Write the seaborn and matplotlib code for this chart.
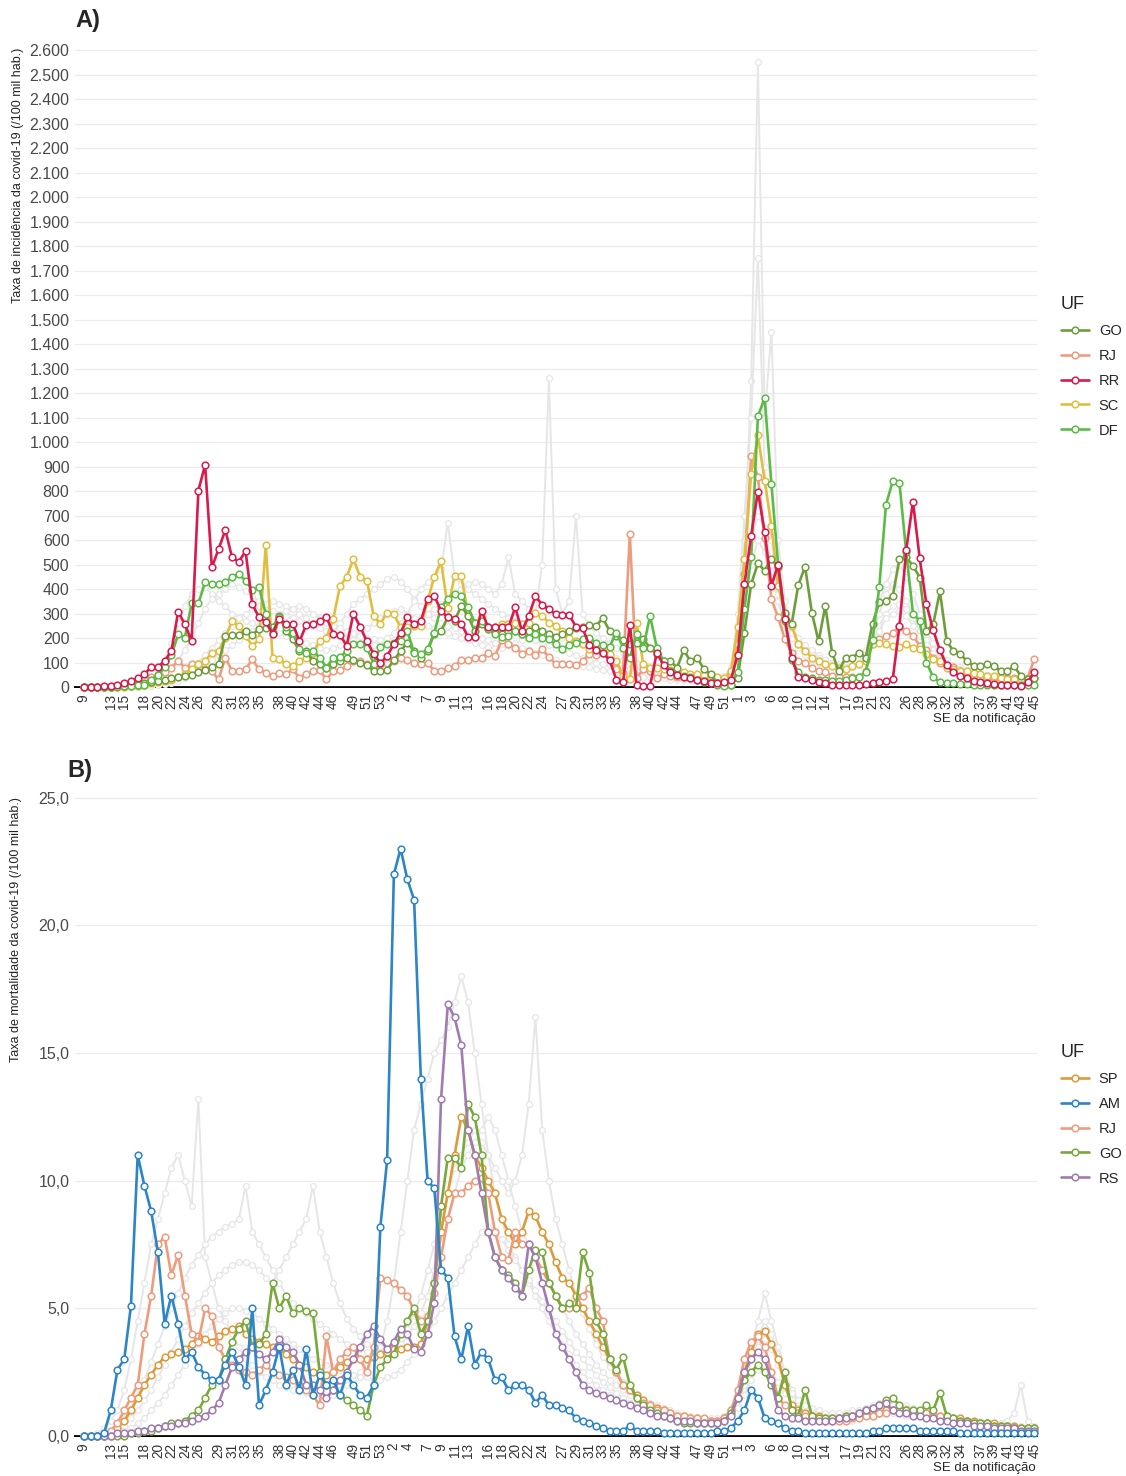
import matplotlib.pyplot as plt
from matplotlib.lines import Line2D
from matplotlib.ticker import FuncFormatter
import pandas as pd
import seaborn as sns

# epidemiological weeks: 2020 SE 9-53, 2021 SE 1-52, 2022 SE 1-45
weeks_2020 = list(range(9, 54))
weeks_2021 = list(range(1, 53))
weeks_2022 = list(range(1, 46))
shown_2020 = [9, 13, 15, 18, 20, 22, 24, 26, 29, 31, 33, 35, 38, 40, 42, 44, 46, 49, 51, 53]
shown_2021 = [2, 4, 7, 9, 11, 13, 16, 18, 20, 22, 24, 27, 29, 31, 33, 35, 38, 40, 42, 44, 47, 49, 51]
shown_2022 = [1, 3, 6, 8, 10, 12, 14, 17, 19, 21, 23, 26, 28, 30, 32, 34, 37, 39, 41, 43, 45]

# ---- panel A: incidence (/100 mil hab.)
a_go = [0, 0, 0, 1, 2, 3, 5, 8, 10, 15,
        20, 25, 30, 35, 40, 45, 50, 60, 70, 80,
        95, 209, 213, 213, 229, 213, 236, 240, 243, 290,
        229, 195, 147, 147, 106, 93, 79, 93, 106, 120,
        110, 100, 90, 65, 65, 70, 110, 147, 181, 147,
        120, 147, 218, 229, 284, 270, 331, 290, 229, 256,
        243, 229, 215, 229, 229, 215, 229, 243, 229, 215,
        205, 215, 230, 240, 245, 254, 250, 281, 229, 209,
        190, 175, 180, 195, 160, 134, 106, 106, 79, 150,
        106, 120, 72, 52, 15, 10, 10, 38, 222, 420,
        505, 475, 523, 488, 304, 256, 417, 491, 304, 186,
        331, 140, 65, 120, 120, 140, 120, 259, 345, 352,
        372, 522, 529, 495, 447, 229, 256, 390, 188, 147,
        136, 106, 86, 86, 93, 86, 65, 65, 86, 45,
        31, 38]
a_rj = [0, 0, 0, 1, 2, 5, 10, 15, 20, 30,
        40, 50, 60, 79, 106, 79, 93, 93, 72, 65,
        31, 120, 65, 65, 72, 113, 72, 59, 45, 59,
        52, 72, 38, 52, 65, 68, 31, 65, 68, 86,
        106, 106, 93, 82, 93, 100, 106, 120, 109, 100,
        93, 100, 65, 65, 76, 86, 109, 109, 120, 120,
        140, 127, 191, 175, 161, 136, 147, 131, 154, 123,
        93, 93, 95, 90, 106, 134, 130, 140, 113, 72,
        59, 625, 38, 72, 65, 38, 52, 45, 40, 40,
        35, 35, 30, 25, 20, 15, 52, 175, 461, 945,
        857, 608, 359, 284, 195, 140, 106, 100, 76, 65,
        60, 45, 40, 40, 42, 40, 65, 188, 195, 209,
        222, 243, 229, 210, 168, 150, 120, 100, 86, 80,
        65, 55, 45, 40, 38, 35, 35, 35, 35, 35,
        38, 113]
a_rr = [0, 0, 1, 3, 5, 8, 15, 25, 35, 52,
        82, 82, 106, 147, 307, 256, 188, 802, 907, 488,
        563, 641, 529, 512, 554, 338, 284, 265, 218, 277,
        259, 259, 186, 254, 259, 270, 286, 218, 213, 168,
        300, 246, 186, 136, 97, 127, 175, 221, 284, 256,
        270, 359, 372, 311, 284, 277, 259, 205, 205, 311,
        243, 243, 243, 243, 325, 229, 290, 370, 336, 318,
        297, 295, 295, 246, 240, 170, 150, 140, 110, 30,
        20, 255, 10, 5, 5, 140, 90, 60, 50, 40,
        35, 30, 25, 15, 15, 20, 30, 131, 420, 618,
        798, 632, 413, 500, 277, 120, 40, 35, 30, 20,
        15, 10, 10, 8, 8, 10, 12, 15, 20, 25,
        31, 250, 559, 757, 525, 338, 232, 150, 90, 60,
        45, 35, 25, 20, 15, 12, 10, 8, 8, 5,
        20, 60]
a_sc = [0, 0, 0, 0, 0, 1, 2, 3, 5, 10,
        15, 20, 25, 30, 40, 55, 75, 93, 106, 140,
        147, 202, 270, 250, 209, 168, 195, 581, 120, 113,
        93, 86, 106, 120, 140, 188, 202, 277, 411, 450,
        522, 450, 434, 290, 259, 304, 297, 243, 243, 250,
        250, 352, 450, 513, 322, 452, 452, 300, 263, 284,
        236, 243, 256, 259, 263, 256, 263, 304, 290, 263,
        250, 229, 202, 188, 175, 154, 154, 145, 134, 106,
        45, 31, 263, 93, 79, 79, 72, 70, 65, 60,
        55, 55, 50, 45, 40, 35, 65, 243, 522, 870,
        1027, 843, 659, 413, 300, 250, 175, 147, 120, 106,
        93, 86, 76, 72, 86, 93, 106, 175, 181, 175,
        168, 164, 175, 161, 154, 134, 113, 106, 79, 72,
        65, 65, 59, 52, 45, 45, 38, 31, 31, 31,
        31, 38]
a_df = [0, 0, 0, 0, 1, 2, 3, 5, 8, 10,
        30, 50, 80, 130, 215, 202, 341, 341, 427, 420,
        420, 427, 450, 461, 434, 396, 409, 297, 222, 286,
        243, 222, 154, 140, 147, 120, 79, 120, 123, 147,
        177, 177, 161, 95, 164, 175, 181, 188, 229, 140,
        134, 154, 222, 325, 359, 379, 370, 325, 263, 270,
        236, 215, 205, 209, 229, 215, 202, 218, 202, 195,
        175, 154, 170, 180, 195, 200, 180, 170, 165, 222,
        161, 120, 215, 160, 290, 161, 106, 65, 50, 45,
        40, 30, 20, 15, 10, 5, 10, 60, 320, 530,
        1105, 1180, 830, 500, 270, 110, 60, 40, 35, 30,
        30, 25, 25, 30, 35, 40, 60, 190, 407, 745,
        840, 832, 550, 300, 270, 100, 40, 20, 15, 15,
        12, 12, 10, 10, 10, 10, 8, 8, 8, 8,
        8, 10]
# other states (grey background)
a_gray1 = [0, 0, 0, 0, 0, 1, 2, 4, 8, 15,
           30, 60, 110, 180, 260, 330, 380, 400, 410, 380,
           350, 330, 300, 280, 270, 260, 250, 240, 230, 220,
           210, 200, 190, 180, 170, 160, 150, 160, 170, 180,
           200, 220, 240, 260, 280, 300, 310, 320, 300, 280,
           260, 250, 240, 230, 220, 210, 200, 190, 180, 170,
           165, 160, 160, 170, 180, 190, 200, 190, 180, 170,
           160, 150, 140, 130, 120, 110, 100, 95, 90, 85,
           80, 75, 70, 65, 60, 55, 50, 45, 40, 40,
           35, 35, 30, 30, 30, 30, 40, 200, 600, 1250,
           2550, 1100, 1450, 600, 350, 250, 200, 170, 150, 130,
           110, 100, 90, 80, 80, 90, 120, 200, 300, 380,
           420, 400, 350, 300, 250, 200, 160, 130, 110, 90,
           80, 70, 60, 55, 50, 45, 40, 40, 35, 35,
           30, 30]
a_gray2 = [0, 0, 0, 0, 1, 2, 3, 5, 8, 12,
           20, 35, 55, 80, 110, 150, 200, 260, 320, 360,
           380, 400, 420, 410, 390, 370, 350, 330, 310, 300,
           290, 280, 270, 260, 250, 240, 230, 240, 260, 300,
           340, 360, 380, 400, 420, 440, 450, 430, 400, 360,
           330, 300, 280, 260, 250, 240, 230, 220, 210, 200,
           190, 180, 175, 170, 165, 160, 150, 140, 130, 120,
           110, 100, 95, 90, 85, 80, 75, 70, 65, 60,
           55, 50, 45, 40, 40, 35, 35, 30, 30, 30,
           30, 30, 30, 30, 30, 30, 60, 300, 700, 1100,
           1750, 900, 600, 350, 250, 200, 160, 130, 110, 100,
           90, 80, 70, 70, 80, 100, 150, 250, 350, 420,
           480, 500, 450, 380, 300, 230, 180, 140, 110, 90,
           80, 70, 60, 55, 50, 45, 40, 40, 35, 35,
           30, 30]
a_gray3 = [0, 0, 0, 0, 0, 0, 1, 2, 3, 5,
           8, 12, 20, 30, 45, 60, 80, 100, 130, 160,
           190, 220, 250, 280, 300, 320, 330, 340, 350, 340,
           330, 320, 300, 280, 260, 240, 230, 220, 210, 200,
           190, 180, 175, 170, 175, 180, 190, 200, 220, 250,
           280, 300, 320, 340, 360, 380, 400, 420, 430, 420,
           400, 380, 420, 530, 380, 350, 320, 300, 500, 1260,
           400, 300, 350, 700, 300, 250, 220, 200, 180, 160,
           140, 120, 100, 90, 80, 70, 60, 55, 50, 45,
           40, 40, 35, 35, 35, 40, 60, 150, 350, 500,
           600, 550, 450, 350, 250, 200, 170, 150, 130, 120,
           110, 100, 95, 90, 90, 100, 130, 180, 250, 300,
           330, 340, 320, 280, 230, 190, 150, 120, 100, 85,
           75, 65, 60, 55, 50, 45, 40, 35, 35, 30,
           30, 30]
a_gray4 = [0, 0, 0, 0, 0, 0, 0, 1, 2, 3,
           5, 8, 12, 18, 25, 35, 50, 70, 90, 110,
           130, 150, 170, 190, 210, 230, 250, 270, 290, 300,
           310, 320, 330, 320, 300, 280, 260, 250, 240, 230,
           220, 210, 200, 195, 190, 200, 220, 260, 300, 350,
           400, 430, 450, 480, 670, 450, 420, 400, 380, 360,
           340, 320, 300, 280, 270, 260, 250, 240, 230, 220,
           210, 200, 190, 180, 170, 160, 150, 140, 130, 120,
           110, 100, 95, 90, 85, 80, 75, 70, 65, 60,
           55, 50, 45, 40, 40, 45, 80, 250, 450, 600,
           700, 650, 500, 380, 280, 220, 180, 150, 130, 110,
           100, 90, 85, 80, 85, 95, 120, 170, 230, 280,
           300, 310, 290, 250, 210, 170, 140, 110, 95, 80,
           70, 60, 55, 50, 45, 40, 38, 35, 32, 30,
           30, 30]

# ---- panel B: mortality (/100 mil hab.)
b_sp = [0, 0, 0, 0, 0.1, 0.3, 0.6, 1.0, 1.5, 2.0,
        2.4, 2.8, 3.1, 3.2, 3.3, 3.4, 3.6, 3.9, 3.8, 3.7,
        3.9, 4.1, 4.2, 4.3, 4.0, 3.8, 3.7, 3.6, 3.5, 3.4,
        3.2, 3.0, 2.8, 2.7, 2.5, 2.4, 2.4, 2.5, 2.7, 2.9,
        3.0, 3.0, 3.0, 3.1, 3.2, 3.3, 3.4, 3.4, 3.5, 3.5,
        3.6, 4.5, 6.0, 8.0, 9.5, 11.0, 12.5, 12.0, 11.0, 10.5,
        10.0, 9.5, 8.5, 8.0, 7.5, 8.0, 8.8, 8.6, 8.0, 7.5,
        6.8, 6.2, 6.0, 5.5, 5.0, 4.5, 4.0, 3.5, 3.0, 2.5,
        2.0, 1.8, 1.6, 1.4, 1.2, 1.1, 1.0, 0.9, 0.8, 0.8,
        0.7, 0.7, 0.6, 0.6, 0.6, 0.7, 1.0, 1.5, 2.5, 3.3,
        4.0, 4.1, 3.6, 3.0, 2.0, 1.2, 1.0, 0.9, 0.8, 0.8,
        0.7, 0.7, 0.7, 0.8, 0.8, 0.8, 0.9, 0.9, 0.9, 1.0,
        1.0, 1.0, 1.0, 0.9, 0.9, 0.9, 0.8, 0.8, 0.8, 0.7,
        0.7, 0.6, 0.6, 0.5, 0.5, 0.5, 0.4, 0.4, 0.4, 0.3,
        0.3, 0.3]
b_am = [0, 0, 0, 0.1, 1.0, 2.6, 3.0, 5.1, 11.0, 9.8,
        8.8, 7.2, 4.4, 5.5, 4.4, 3.0, 3.3, 2.7, 2.4, 2.2,
        2.2, 2.8, 3.3, 2.7, 2.0, 5.0, 1.2, 1.8, 2.5, 3.5,
        2.0, 2.6, 1.8, 3.4, 1.6, 2.4, 2.0, 2.2, 1.6, 2.4,
        2.0, 1.6, 1.5, 2.0, 8.2, 10.8, 22.0, 23.0, 21.8, 21.0,
        14.0, 10.0, 9.7, 6.5, 6.2, 3.9, 3.0, 4.3, 2.8, 3.3,
        3.0, 2.2, 2.3, 1.8, 2.0, 2.0, 1.8, 1.3, 1.6, 1.2,
        1.2, 1.1, 1.0, 0.7, 0.6, 0.5, 0.4, 0.3, 0.2, 0.2,
        0.2, 0.4, 0.2, 0.2, 0.2, 0.2, 0.1, 0.1, 0.1, 0.1,
        0.1, 0.1, 0.1, 0.1, 0.2, 0.2, 0.3, 0.6, 1.0, 1.8,
        1.5, 0.7, 0.6, 0.5, 0.3, 0.2, 0.2, 0.1, 0.1, 0.1,
        0.1, 0.1, 0.1, 0.1, 0.1, 0.1, 0.1, 0.2, 0.2, 0.3,
        0.3, 0.3, 0.3, 0.3, 0.2, 0.2, 0.2, 0.2, 0.2, 0.2,
        0.1, 0.1, 0.1, 0.1, 0.1, 0.1, 0.1, 0.1, 0.1, 0.1,
        0.1, 0.1]
b_rj = [0, 0, 0, 0, 0.2, 0.5, 1.0, 1.5, 2.0, 4.0,
        5.5, 7.5, 7.8, 6.3, 7.1, 5.5, 4.0, 3.7, 5.0, 4.7,
        3.5, 3.0, 2.8, 2.6, 2.5, 2.4, 2.6, 2.8, 2.5, 2.4,
        2.3, 2.2, 2.0, 1.8, 1.6, 1.2, 3.9, 2.5, 3.0, 3.3,
        3.5, 3.0, 2.5, 3.5, 6.2, 6.1, 6.0, 5.7, 5.5, 4.9,
        4.5, 4.7, 5.6, 7.0, 8.5, 9.5, 9.5, 9.8, 10.0, 10.1,
        9.5, 8.0, 7.0, 6.9, 8.0, 7.5, 7.5, 7.0, 6.5, 6.0,
        5.5, 5.0, 5.0, 5.2, 5.5, 5.8, 5.0, 4.5, 3.0, 2.5,
        2.0, 1.8, 1.5, 1.3, 1.2, 1.0, 1.0, 0.9, 0.8, 0.8,
        0.7, 0.7, 0.7, 0.6, 0.6, 0.7, 1.0, 1.8, 3.0, 3.7,
        3.9, 3.5, 2.5, 1.5, 1.2, 1.0, 0.9, 0.8, 0.7, 0.7,
        0.6, 0.6, 0.6, 0.6, 0.7, 0.7, 0.8, 0.8, 0.9, 0.9,
        1.0, 1.0, 1.0, 0.9, 0.9, 0.9, 0.8, 0.8, 0.7, 0.7,
        0.6, 0.6, 0.5, 0.5, 0.5, 0.4, 0.4, 0.4, 0.3, 0.3,
        0.3, 0.3]
b_go = [0, 0, 0, 0, 0, 0, 0, 0.1, 0.1, 0.2,
        0.2, 0.3, 0.4, 0.5, 0.5, 0.6, 0.8, 1.0, 1.5, 2.0,
        2.2, 3.0, 3.7, 4.2, 4.5, 3.5, 3.6, 4.0, 6.0, 5.0,
        5.5, 4.8, 5.0, 4.9, 4.8, 2.5, 2.0, 1.8, 1.6, 1.4,
        1.2, 1.0, 0.8, 2.0, 2.7, 3.0, 3.2, 4.0, 4.5, 5.0,
        4.0, 4.5, 6.0, 9.0, 10.9, 10.9, 10.5, 13.0, 12.5, 11.0,
        8.0, 7.0, 6.5, 6.3, 6.0, 5.5, 6.5, 7.3, 7.2, 6.0,
        5.5, 5.0, 5.2, 5.0, 7.2, 6.4, 4.5, 4.0, 3.0, 2.6,
        3.1, 2.0, 1.5, 1.2, 1.0, 0.9, 0.8, 0.7, 0.6, 0.5,
        0.5, 0.5, 0.5, 0.5, 0.5, 0.6, 0.9, 1.5, 2.2, 2.5,
        2.8, 2.5, 2.0, 1.5, 2.5, 1.0, 0.8, 1.8, 0.8, 0.7,
        0.7, 0.7, 0.7, 0.8, 0.8, 0.9, 1.0, 1.1, 1.2, 1.4,
        1.5, 1.2, 1.0, 1.0, 1.0, 1.2, 1.0, 1.7, 0.8, 0.7,
        0.6, 0.6, 0.5, 0.5, 0.5, 0.4, 0.4, 0.4, 0.3, 0.3,
        0.3, 0.3]
b_rs = [0, 0, 0, 0, 0, 0.1, 0.1, 0.1, 0.2, 0.2,
        0.3, 0.3, 0.4, 0.4, 0.5, 0.5, 0.6, 0.7, 0.8, 1.0,
        1.3, 2.0, 2.7, 3.0, 3.3, 3.5, 3.2, 3.0, 3.3, 3.8,
        3.5, 3.3, 2.8, 2.0, 2.0, 1.8, 1.5, 1.8, 2.2, 2.5,
        3.0, 3.5, 4.0, 4.3, 3.8, 3.4, 3.7, 4.2, 4.0, 3.4,
        3.3, 4.0, 5.2, 13.2, 16.9, 16.4, 15.3, 12.0, 11.0, 9.5,
        8.0, 7.0, 6.5, 6.2, 5.8, 5.5, 7.5, 7.0, 6.0, 5.0,
        4.0, 3.5, 3.0, 2.5, 2.0, 1.8, 1.7, 1.6, 1.5, 1.4,
        1.3, 1.2, 1.1, 1.0, 0.9, 0.8, 0.8, 0.7, 0.6, 0.6,
        0.6, 0.5, 0.5, 0.5, 0.5, 0.6, 0.8, 1.5, 2.5, 3.0,
        3.3, 3.0, 2.2, 1.0, 0.8, 0.7, 0.7, 0.6, 0.6, 0.6,
        0.6, 0.6, 0.7, 0.7, 0.8, 0.9, 1.0, 1.1, 1.2, 1.3,
        1.0, 0.9, 0.9, 0.8, 0.8, 0.7, 0.7, 0.6, 0.6, 0.5,
        0.5, 0.5, 0.4, 0.4, 0.4, 0.3, 0.3, 0.3, 0.3, 0.2,
        0.2, 0.2]
b_gray1 = [0, 0, 0.1, 0.3, 0.6, 1.0, 1.8, 3.0, 4.5, 6.0,
           7.5, 8.5, 9.5, 10.5, 11.0, 10.0, 9.0, 13.2, 7.0, 6.0,
           5.0, 4.5, 4.0, 3.5, 3.0, 2.8, 2.5, 2.3, 2.2, 2.0,
           1.9, 1.8, 1.8, 1.7, 1.6, 1.6, 1.5, 1.6, 1.8, 2.0,
           2.2, 2.5, 2.8, 3.0, 3.5, 4.5, 6.0, 8.0, 10.0, 12.0,
           13.0, 14.0, 15.0, 15.5, 16.0, 17.0, 18.0, 17.0, 15.0, 13.0,
           11.0, 9.5, 8.5, 7.5, 7.0, 6.5, 6.0, 5.5, 5.0, 4.5,
           4.0, 3.6, 3.2, 2.8, 2.5, 2.2, 2.0, 1.8, 1.6, 1.4,
           1.3, 1.2, 1.1, 1.0, 0.9, 0.8, 0.8, 0.7, 0.7, 0.6,
           0.6, 0.6, 0.5, 0.5, 0.5, 0.6, 0.8, 1.2, 2.0, 3.0,
           3.8, 4.5, 4.0, 3.2, 2.5, 1.8, 1.4, 1.1, 0.9, 0.8,
           0.7, 0.6, 0.6, 0.6, 0.6, 0.7, 0.8, 0.9, 1.0, 1.0,
           1.0, 0.9, 0.9, 0.8, 0.8, 0.7, 0.7, 0.6, 0.6, 0.5,
           0.5, 0.5, 0.4, 0.4, 0.4, 0.3, 0.3, 0.3, 0.3, 0.3,
           0.3, 0.2]
b_gray2 = [0, 0, 0, 0.1, 0.2, 0.4, 0.7, 1.1, 1.6, 2.2,
           2.9, 3.6, 4.3, 5.0, 5.6, 6.2, 6.7, 7.1, 7.5, 7.8,
           8.0, 8.2, 8.3, 8.5, 9.8, 8.0, 7.5, 7.0, 6.5, 6.0,
           5.5, 5.2, 5.0, 4.8, 4.6, 4.4, 4.2, 4.0, 3.8, 3.6,
           3.5, 3.4, 3.3, 3.2, 3.2, 3.3, 3.5, 3.8, 4.2, 4.8,
           5.5, 6.5, 7.5, 8.5, 9.5, 10.5, 11.0, 11.5, 12.0, 11.5,
           11.0, 10.5, 10.0, 9.5, 10.0, 11.0, 13.0, 16.4, 12.0, 10.0,
           8.5, 7.5, 6.5, 5.5, 4.8, 4.2, 3.6, 3.1, 2.7, 2.4,
           2.1, 1.8, 1.6, 1.4, 1.2, 1.1, 1.0, 0.9, 0.8, 0.7,
           0.7, 0.6, 0.6, 0.6, 0.6, 0.7, 0.9, 1.5, 2.5, 3.5,
           4.5, 5.6, 4.5, 3.5, 2.5, 1.8, 1.4, 1.2, 1.0, 0.9,
           0.8, 0.8, 0.8, 0.8, 0.9, 1.0, 1.1, 1.2, 1.3, 1.3,
           1.3, 1.2, 1.2, 1.1, 1.0, 1.0, 0.9, 0.8, 0.8, 0.7,
           0.7, 0.6, 0.6, 0.5, 0.5, 0.5, 0.5, 0.6, 0.9, 2.0,
           0.6, 0.4]
b_gray3 = [0, 0, 0, 0, 0.1, 0.2, 0.4, 0.7, 1.0, 1.4,
           1.8, 2.3, 2.8, 3.3, 3.8, 4.3, 4.8, 5.2, 5.6, 6.0,
           6.3, 6.5, 6.7, 6.8, 6.8, 6.7, 6.5, 6.2, 6.0, 6.5,
           7.0, 7.5, 8.0, 8.5, 9.8, 8.0, 7.0, 6.0, 5.2, 4.6,
           4.2, 3.9, 3.6, 3.4, 3.3, 3.3, 3.4, 3.6, 3.9, 4.3,
           4.8, 5.5, 6.5, 7.5, 8.5, 9.5, 10.5, 11.0, 11.5, 12.0,
           12.5, 12.0, 11.0, 10.0, 9.0, 8.0, 7.5, 7.0, 6.5, 6.0,
           5.5, 5.0, 4.5, 4.0, 3.6, 3.2, 2.8, 2.5, 2.2, 2.0,
           1.8, 1.6, 1.5, 1.4, 1.3, 1.2, 1.1, 1.0, 0.9, 0.8,
           0.8, 0.7, 0.7, 0.7, 0.7, 0.8, 1.0, 1.5, 2.2, 3.0,
           3.5, 3.8, 3.4, 2.8, 2.2, 1.7, 1.4, 1.2, 1.1, 1.0,
           0.9, 0.9, 0.9, 0.9, 1.0, 1.0, 1.1, 1.1, 1.2, 1.2,
           1.2, 1.1, 1.1, 1.0, 1.0, 0.9, 0.9, 0.8, 0.8, 0.7,
           0.7, 0.6, 0.6, 0.6, 0.5, 0.5, 0.5, 0.4, 0.4, 0.4,
           0.3, 0.3]
b_gray4 = [0, 0, 0, 0, 0, 0.1, 0.2, 0.3, 0.5, 0.7,
           1.0, 1.3, 1.6, 2.0, 2.4, 2.8, 3.2, 3.6, 4.0, 4.3,
           4.6, 4.8, 5.0, 5.0, 4.9, 4.8, 4.6, 4.4, 4.2, 4.0,
           3.8, 3.6, 3.4, 3.2, 3.0, 2.9, 2.8, 2.7, 2.6, 2.5,
           2.4, 2.3, 2.3, 2.2, 2.2, 2.3, 2.4, 2.6, 2.9, 3.2,
           3.6, 4.0, 4.5, 5.0, 5.5, 6.0, 6.5, 7.0, 7.5, 8.0,
           8.2, 8.0, 7.7, 7.3, 6.9, 6.5, 6.1, 5.7, 5.3, 4.9,
           4.5, 4.1, 3.7, 3.3, 3.0, 2.7, 2.4, 2.1, 1.9, 1.7,
           1.5, 1.3, 1.2, 1.1, 1.0, 0.9, 0.8, 0.7, 0.7, 0.6,
           0.6, 0.5, 0.5, 0.5, 0.5, 0.6, 0.8, 1.1, 1.6, 2.2,
           2.6, 2.8, 2.5, 2.1, 1.7, 1.4, 1.1, 0.9, 0.8, 0.7,
           0.6, 0.6, 0.6, 0.6, 0.7, 0.7, 0.8, 0.8, 0.9, 0.9,
           0.9, 0.9, 0.8, 0.8, 0.8, 0.7, 0.7, 0.6, 0.6, 0.6,
           0.5, 0.5, 0.5, 0.4, 0.4, 0.4, 0.4, 0.3, 0.3, 0.3,
           0.3, 0.2]

colors_a = {'GO': '#6E9E3C', 'RJ': '#EE9C7E', 'RR': '#D81A4D', 'SC': '#E2BE40', 'DF': '#5CBB47'}
colors_b = {'SP': '#DC9A3A', 'AM': '#2B85C6', 'RJ': '#EE9C7E', 'GO': '#77A93C', 'RS': '#A07BAF'}
GRAY = '#E6E6E6'

week_labels = []
for w in weeks_2020:
    week_labels.append(str(w) if w in shown_2020 else '')
for w in weeks_2021:
    week_labels.append(str(w) if w in shown_2021 else '')
for w in weeks_2022:
    week_labels.append(str(w) if w in shown_2022 else '')
n = len(week_labels)

sns.set_style('white')
plt.rcParams['font.family'] = ['Liberation Sans', 'DejaVu Sans']

fig = plt.figure(figsize=(11.26, 14.76), dpi=100)
ax_a = fig.add_axes([75 / 1126, 1 - 687 / 1476, 962 / 1126, 643 / 1476])
ax_b = fig.add_axes([75 / 1126, 1 - 1436 / 1476, 962 / 1126, 646 / 1476])


def one_line(ax, vals, color, lw, ms, mew, z):
    df = pd.DataFrame({'x': range(len(vals)), 'y': vals})
    sns.lineplot(data=df, x='x', y='y', color=color, lw=lw, marker='o', markersize=ms,
                 markerfacecolor='white', markeredgecolor=color, markeredgewidth=mew,
                 ax=ax, legend=False, zorder=z, clip_on=False)


def draw(ax, gray, series, palette):
    for vals in gray:
        one_line(ax, vals, GRAY, 1.4, 4.2, 0.9, 1)
    for name, vals in series.items():
        one_line(ax, vals, palette[name], 1.9, 4.8, 1.1, 3)


draw(ax_a, [a_gray1, a_gray2, a_gray3, a_gray4],
     {'RJ': a_rj, 'SC': a_sc, 'GO': a_go, 'DF': a_df, 'RR': a_rr}, colors_a)
draw(ax_b, [b_gray1, b_gray2, b_gray3, b_gray4],
     {'SP': b_sp, 'RJ': b_rj, 'GO': b_go, 'RS': b_rs, 'AM': b_am}, colors_b)

ax_a.set_ylim(0, 2625)
ax_a.set_yticks(range(0, 2601, 100))
ax_a.yaxis.set_major_formatter(FuncFormatter(lambda v, p: f'{int(v):,}'.replace(',', '.')))
ax_b.set_ylim(0, 25.3)
ax_b.set_yticks([0, 5, 10, 15, 20, 25])
ax_b.yaxis.set_major_formatter(FuncFormatter(lambda v, p: f'{v:.1f}'.replace('.', ',')))

for ax in (ax_a, ax_b):
    ax.set_xlim(-1.3, n - 0.6)
    ax.set_xticks(range(n))
    ax.set_xticklabels(week_labels, rotation=90, fontsize=9.8, color='#333333')
    ax.tick_params(axis='x', length=4, width=0.8, color='black', pad=1)
    ax.tick_params(axis='y', length=0, labelsize=11.5, labelcolor='#4A4A4A', pad=4)
    ax.grid(axis='y', color='#EBEBEB', lw=0.9)
    ax.grid(axis='x', visible=False)
    ax.set_axisbelow(True)
    for s in ('top', 'right', 'left'):
        ax.spines[s].set_visible(False)
    ax.spines['bottom'].set_color('black')
    ax.spines['bottom'].set_linewidth(1.4)
    ax.spines['bottom'].set_zorder(0.5)
    ax.set_xlabel('')
    ax.set_ylabel('')

fig.text(75 / 1126, 1 - 20 / 1476, 'A)', fontsize=17, fontweight='bold', va='center')
fig.text(67 / 1126, 1 - 770 / 1476, 'B)', fontsize=17, fontweight='bold', va='center')
fig.text(18 / 1126, 1 - 175 / 1476, 'Taxa de incidência da covid-19 (/100 mil hab.)',
         rotation=90, fontsize=9, va='center', ha='center', color='#222222')
fig.text(16 / 1126, 1 - 930 / 1476, 'Taxa de mortalidade da covid-19 (/100 mil hab.)',
         rotation=90, fontsize=9, va='center', ha='center', color='#222222')
fig.text(1036 / 1126, 1 - 719 / 1476, 'SE da notificação', fontsize=9.5, ha='right', va='center')
fig.text(1036 / 1126, 1 - 1468 / 1476, 'SE da notificação', fontsize=9.5, ha='right', va='center')


def add_legend(order, palette, y_top):
    handles = [Line2D([0], [0], color=palette[k], lw=1.9, marker='o', markersize=4.8,
                      markerfacecolor='white', markeredgecolor=palette[k],
                      markeredgewidth=1.1) for k in order]
    leg = fig.legend(handles, order, title='UF', loc='upper left',
                     bbox_to_anchor=(1055 / 1126, 1 - y_top / 1476), frameon=False,
                     fontsize=10.5, title_fontsize=13, handlelength=1.9,
                     labelspacing=0.75, handletextpad=0.7, borderaxespad=0)
    leg._legend_box.align = 'left'


add_legend(['GO', 'RJ', 'RR', 'SC', 'DF'], colors_a, 290)
add_legend(['SP', 'AM', 'RJ', 'GO', 'RS'], colors_b, 1038)

fig.savefig('out.png', dpi=100)
